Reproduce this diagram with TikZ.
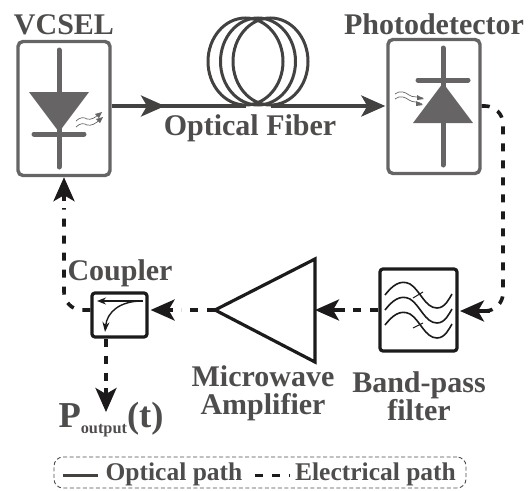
\documentclass[tikz,border=0pt]{standalone}
\usepackage{xcolor}
\usepackage{fontspec}
\setmainfont{Liberation Serif}
\usetikzlibrary{arrows.meta}
\definecolor{labgray}{HTML}{4f4c4c}
\definecolor{boxgray}{HTML}{666464}
\definecolor{fibgray}{HTML}{444141}
\definecolor{elecblack}{HTML}{1c1a1a}
\tikzset{
  lab/.style={text=labgray,font=\bfseries\fontsize{30}{27}\selectfont,inner sep=0pt},
  leglab/.style={text=labgray,font=\bfseries\fontsize{25.5}{26}\selectfont,inner sep=0pt},
  graybox/.style={draw=boxgray,line width=3.4pt,rounded corners=5pt,inner sep=0pt,minimum width=92pt,minimum height=134pt},
  blackbox/.style={draw=elecblack,line width=3.2pt,rounded corners=3pt,inner sep=0pt},
  optical/.style={draw=fibgray,line width=3.4pt},
  elec/.style={draw=elecblack,line width=3.6pt,dash pattern=on 8pt off 9pt},
  bigtip/.style={-{Stealth[length=24pt,width=21pt,inset=6pt]}},
}
\begin{document}
\begin{tikzpicture}[x=1pt,y=-1pt]
  \useasboundingbox (0,0) rectangle (530,490);
  % boxes
  \node[graybox] (vcsel) at (64,108.5) {};
  \node[graybox] (detector) at (434,106.5) {};
  \node[blackbox,minimum width=77pt,minimum height=82pt] (filter) at (418.5,310) {};
  \node[blackbox,minimum width=55pt,minimum height=44pt] (coupler) at (119.5,315) {};
  \coordinate (ampin) at (315,310);
  \coordinate (ampout) at (215,310);
  \draw[elecblack,line width=3.2pt,line join=miter] (ampin) -- (315,259) -- (ampout) -- (315,362) -- cycle;
  % laser diode
  \draw[boxgray,line width=5pt,line cap=round] (59,50) -- (59,167);
  \fill[boxgray] (29,92) -- (89,92) -- (59,132) -- cycle;
  \draw[boxgray,line width=5pt,line cap=round] (34,134) -- (84,134);
  \draw[boxgray,line width=0.7pt] (76,121) .. controls (80,117) and (84,117) .. (87,119) .. controls (91,120) and (95,118) .. (99,114);
  \draw[boxgray,line width=0.7pt] (76,127) .. controls (80,123) and (84,123) .. (87,125) .. controls (91,126) and (96,124) .. (100,119);
  \fill[boxgray] (102,112) -- (95,114) -- (99,118) -- cycle;
  \fill[boxgray] (103,117) -- (96,119) -- (100,123) -- cycle;
  % photo diode
  \draw[boxgray,line width=5pt,line cap=round] (443,48) -- (443,165);
  \draw[boxgray,line width=5pt,line cap=round] (418,80) -- (468,80);
  \fill[boxgray] (443,83) -- (473,123) -- (413,123) -- cycle;
  \draw[boxgray,line width=0.7pt] (395,94) .. controls (400,90) and (405,92) .. (409,95) .. controls (413,98) and (418,96) .. (423,98);
  \draw[boxgray,line width=0.7pt] (395,99) .. controls (400,95) and (405,97) .. (409,100) .. controls (413,103) and (418,101) .. (422,104);
  \fill[boxgray] (424,99) -- (417,95) -- (417,100) -- cycle;
  \fill[boxgray] (423,105) -- (416,101) -- (416,106) -- cycle;
  % fiber coil
  \foreach \cx in {245.5,258,270.5}
    \draw[fibgray,line width=3pt] (\cx,61.5) ellipse[x radius=37.5,y radius=43.5];
  \coordinate (coilin) at (245.5,106);
  \coordinate (coilout) at (270.5,106);
  \coordinate (midtip) at (165,106);
  \draw[optical] (vcsel.east |- coilin) -- (coilin);
  \draw[optical,bigtip] (vcsel.east |- coilin) -- (midtip);
  \draw[optical,bigtip,shorten >=1pt] (coilout) -- (detector.west |- coilout);
  % filter curves
  \foreach \dy in {0,15,30}
    \draw[elecblack,line width=1.6pt,shift={(0,\dy)}] (385,295) .. controls (392,286) and (400,279) .. (410,284) .. controls (420,290) and (425,308) .. (437,308) .. controls (445,308) and (449,299) .. (452,294);
  \draw[elecblack,line width=1pt] (413,298) -- (423,292);
  \draw[elecblack,line width=1pt] (413,328) -- (423,323);
  % coupler arrows
  \draw[elecblack,line width=1.4pt,-{Stealth[length=9pt,width=7pt]}] (143,301) -- (97,301);
  \draw[elecblack,line width=1.4pt,-{Stealth[length=10pt,width=7pt]}] (142,301) .. controls (120,301) and (107,312) .. (105,332);
  % electrical path
  \coordinate (outtip) at (106,412);
  \coordinate (filtertip) at (460,311);
  \draw[elec,rounded corners=18pt] (detector.east |- 0,106) -- (503,106) -- (503,311) -- (494,311);
  \draw[elecblack,line width=3.6pt,bigtip] (490,311) -- (filtertip);
  \draw[elec] (filter.west) -- (352,310);
  \draw[elecblack,line width=3.6pt,bigtip] (345,310) -- (ampin);
  \draw[elec] (ampout) -- (181,310);
  \draw[elecblack,line width=3.6pt,bigtip,shorten >=2pt] (173,310) -- (coupler.east |- 0,310);
  \draw[elec,rounded corners=18pt] (coupler.west |- 0,310) -- (64,310) -- (64,208);
  \draw[elecblack,line width=3.6pt,bigtip] (64,201) -- (vcsel.south -| 64,0);
  \draw[elec] (coupler.south -| 106,0) -- (106,382);
  \draw[elecblack,line width=3.6pt,bigtip] (106,388) -- (outtip);
  % labels
  \node[lab] (vcsellab) at (64,25) {VCSEL};
  \node[lab] (detectorlab) at (434,24) {Photodetector};
  \node[lab] (fiberlab) at (250,128) {Optical Fiber};
  \node[lab] (couplerlab) at (120,273) {Coupler};
  \node[lab,align=center] (amplab) at (263,393.5) {Microwave\\[1pt]Amplifier};
  \node[lab,align=center] (filterlab) at (419,396) {Band-pass\\filter};
  \node[lab,font=\bfseries\fontsize{36.5}{36}\selectfont] (poutlab) at (111,420) {P{\fontsize{16.3}{16}\selectfont\raisebox{-6pt}{output}}(t)};
  % legend
  \node[draw=labgray,line width=0.9pt,dash pattern=on 4pt off 2.5pt,rounded corners=9pt,minimum width=412pt,minimum height=31pt] (legend) at (260,472.5) {};
  \node[leglab] (opticallab) at (174,474) {Optical path};
  \node[leglab] (electricallab) at (375.5,474) {Electrical path};
  \coordinate (optstart) at (63,475);
  \coordinate (optend) at (98,475);
  \coordinate (elstart) at (255,475);
  \coordinate (elend) at (290,475);
  \draw[fibgray,line width=3pt] (optstart) -- (optend);
  \draw[elecblack,line width=3pt,dash pattern=on 8pt off 9pt] (elstart) -- (elend);
\end{tikzpicture}
\end{document}
